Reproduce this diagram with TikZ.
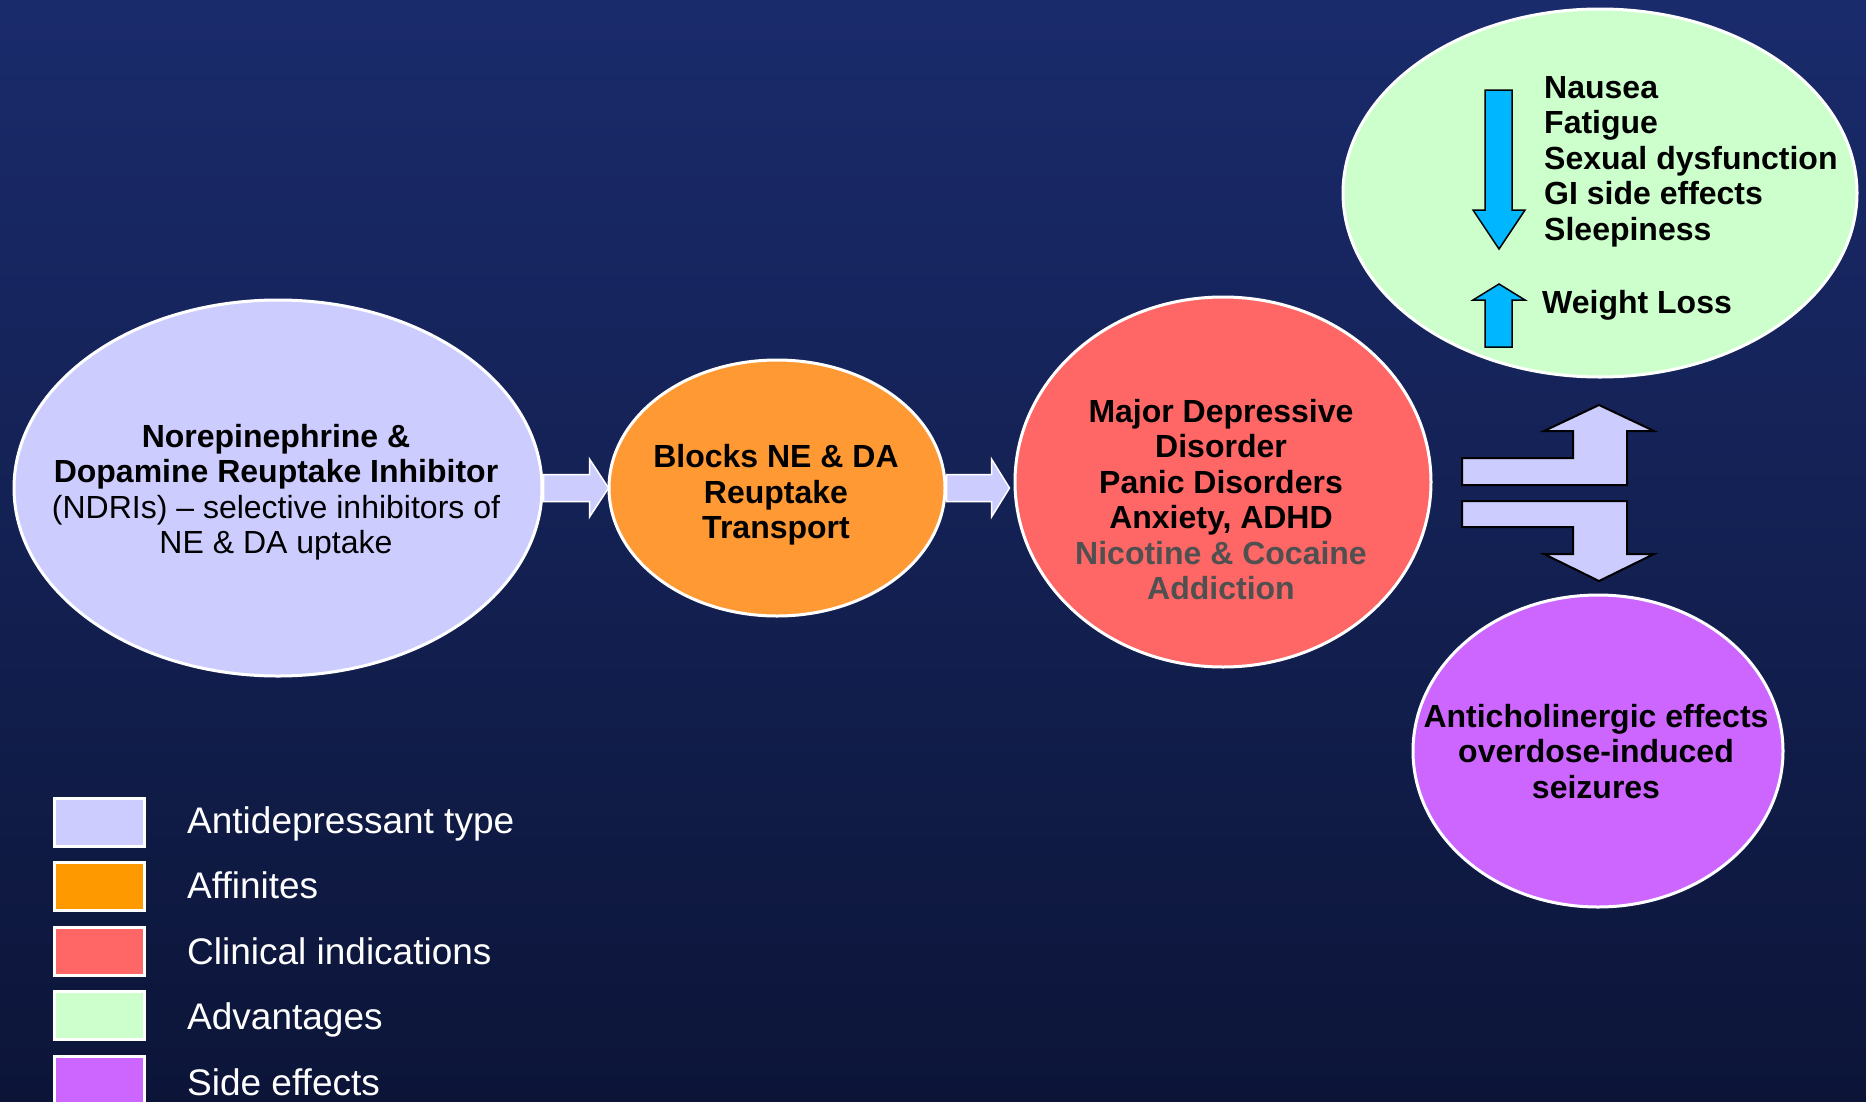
\documentclass[tikz,border=0pt]{standalone}
\usepackage{fontspec}
\setmainfont{Liberation Sans}
\usetikzlibrary{shapes.geometric,calc}
\definecolor{bgtop}{RGB}{26,43,108}
\definecolor{bgbot}{RGB}{12,21,56}
\definecolor{lav}{RGB}{204,204,255}
\definecolor{orng}{RGB}{255,153,51}
\definecolor{orleg}{RGB}{255,153,0}
\definecolor{redc}{RGB}{255,102,102}
\definecolor{grn}{RGB}{204,255,204}
\definecolor{purp}{RGB}{204,102,255}
\definecolor{txtgray}{RGB}{80,80,80}
\definecolor{cyanb}{RGB}{0,183,255}
\tikzset{
  bubble/.style={ellipse, draw=white, line width=3pt, inner sep=0pt},
  btext/.style={anchor=north, inner sep=0pt, align=center, text=black,
    font=\bfseries\fontsize{32}{35.5}\selectfont},
  fatarrow/.style={fill=lav, draw=white, line width=1.5pt, line join=miter},
  splitarrow/.style={fill=lav, draw=black, line width=2pt, line join=miter},
  bluearrow/.style={fill=cyanb, draw=black, line width=1.5pt, line join=miter},
  legbox/.style={draw=white, line width=3pt, minimum width=90pt, minimum height=48pt, inner sep=0pt},
  legtext/.style={anchor=base west, inner sep=0pt, text=white, font=\fontsize{37}{44}\selectfont}
}
\begin{document}
\begin{tikzpicture}[x=1pt,y=-1pt]
\useasboundingbox (0,0) rectangle (1866,1101);
\clip (0,0) rectangle (1866,1101);
\shade[top color=bgtop, bottom color=bgbot] (0,0) rectangle (1866,1101);

% bubbles
\node[bubble, fill=lav, minimum width=528pt, minimum height=376pt] (e1) at (278,488) {};
\node[bubble, fill=orng, minimum width=336pt, minimum height=256pt] (e2) at (777,488) {};
\node[bubble, fill=redc, minimum width=416pt, minimum height=370pt] (e3) at (1223,482) {};
\node[bubble, fill=grn, minimum width=514pt, minimum height=368pt] (e4) at (1600,193) {};
\node[bubble, fill=purp, minimum width=370pt, minimum height=312pt] (e5) at (1598,751) {};

% texts
\node[btext] (t1) at (276,424) {Norepinephrine \&\\Dopamine Reuptake Inhibitor\\
  \mdseries (NDRIs) -- selective inhibitors of\\\mdseries NE \& DA uptake};
\node[btext] (t2) at (776,444.5) {Blocks NE \& DA\\Reuptake\\Transport};
\node[btext] (t3) at (1221,399) {Major Depressive\\Disorder\\Panic Disorders\\Anxiety, ADHD\\
  \textcolor{txtgray}{Nicotine \& Cocaine}\\\textcolor{txtgray}{Addiction}};
\node[btext] (t5) at (1596,704) {Anticholinergic effects\\overdose-induced\\seizures};
\node[btext, anchor=north west, align=left] (t4a) at (1544,76) {Nausea\\Fatigue\\Sexual dysfunction\\GI side effects\\Sleepiness};
\node[btext, anchor=north west, align=left] (t4b) at (1542,290) {Weight Loss};

% fat arrows between bubbles
\draw[fatarrow] ($(e1.east)+(0,-13.5)$) -- ($(e2.west)+(-18,-13.5)$) -- ($(e2.west)+(-18,-29)$)
  -- ($(e2.west)+(1,0)$) -- ($(e2.west)+(-18,29)$) -- ($(e2.west)+(-18,13.5)$) -- ($(e1.east)+(0,13.5)$) -- cycle;
\coordinate (a2t) at (e3.west |- e2.east);
\draw[fatarrow] ($(e2.east)+(0,-13.5)$) -- ($(a2t)+(-22,-13.5)$) -- ($(a2t)+(-22,-29)$)
  -- ($(a2t)+(-4,0)$) -- ($(a2t)+(-22,29)$) -- ($(a2t)+(-22,13.5)$) -- ($(e2.east)+(0,13.5)$) -- cycle;

% split arrow
\draw[splitarrow] (1462,458) -- (1573,458) -- (1573,431) -- (1544,431) -- (1599,405)
  -- (1654,431) -- (1627,431) -- (1627,485) -- (1462,485) -- cycle;
\draw[splitarrow] (1462,501) -- (1627,501) -- (1627,554) -- (1654,554) -- (1599,581)
  -- (1544,554) -- (1573,554) -- (1573,527) -- (1462,527) -- cycle;

% blue arrows
\draw[bluearrow] (1485,90) -- (1512,90) -- (1512,210) -- (1525,210) -- (1499,249)
  -- (1473,210) -- (1485,210) -- cycle;
\draw[bluearrow] (1485,347) -- (1512,347) -- (1512,300) -- (1525,300) -- (1499,284)
  -- (1473,300) -- (1485,300) -- cycle;

% legend
\node[legbox, fill=lav] (l1) at (99.5,822) {};
\node[legbox, fill=orleg] (l2) at (99.5,886.5) {};
\node[legbox, fill=redc] (l3) at (99.5,951) {};
\node[legbox, fill=grn] (l4) at (99.5,1015.5) {};
\node[legbox, fill=purp] (l5) at (99.5,1080) {};
\node[legtext] (lt1) at (187,833) {Antidepressant type};
\node[legtext] (lt2) at (187,898.5) {Affinites};
\node[legtext] (lt3) at (187,964) {Clinical indications};
\node[legtext] (lt4) at (187,1029.5) {Advantages};
\node[legtext] (lt5) at (187,1095) {Side effects};
\end{tikzpicture}
\end{document}
